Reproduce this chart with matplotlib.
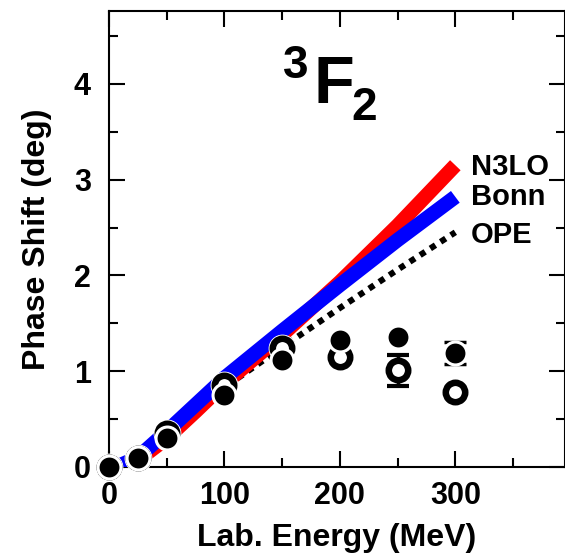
import matplotlib
matplotlib.use("Agg")
import matplotlib.pyplot as plt
from matplotlib.ticker import MultipleLocator

plt.rcParams['font.family'] = ['Liberation Sans', 'DejaVu Sans']
plt.rcParams['font.weight'] = 'bold'

# Lab energies (MeV) of the phase-shift analyses
energy = [0, 25, 50, 100, 150, 200, 250, 300]
pwa_filled = [0.0, 0.09, 0.30, 0.75, 1.12, 1.33, 1.36, 1.19]
pwa_filled_err = [0, 0, 0, 0, 0, 0, 0, 0.12]
pwa_open = [0.0, 0.09, 0.35, 0.86, 1.24, 1.15, 1.01, 0.78]
pwa_open_err = [0, 0, 0, 0, 0, 0, 0.16, 0]

# Model predictions
curve_energy = [0, 10, 25, 50, 75, 100, 150, 200, 250, 300]
n3lo = [0.0, 0.01, 0.07, 0.30, 0.58, 0.87, 1.38, 1.93, 2.52, 3.15]
bonn = [0.0, 0.02, 0.10, 0.37, 0.65, 0.93, 1.42, 1.90, 2.37, 2.82]
ope = [0.0, 0.01, 0.08, 0.34, 0.58, 0.83, 1.25, 1.66, 2.06, 2.45]

xticks = [0, 100, 200, 300]
yticks = [0, 1, 2, 3, 4]

W, H = 565, 558
fig = plt.figure(figsize=(W / 100, H / 100), dpi=100)
ax = fig.add_axes([109 / W, (H - 467) / H, 456 / W, 456 / H])

ax.plot(curve_energy, ope, color='black', lw=4.4, linestyle=(0, (1, 1)),
        dash_capstyle='butt', zorder=2)
ax.plot(curve_energy, n3lo, color='#ff0000', lw=10.5, solid_capstyle='butt', zorder=3)
ax.plot(curve_energy, bonn, color='#0000ff', lw=10.5, solid_capstyle='butt', zorder=4)

# open symbols: white halo, then black ring
ax.plot(energy, pwa_open, 'o', ms=17.5, mfc='white', mec='white', mew=2.5,
        zorder=5, clip_on=False)
ax.errorbar(energy, pwa_open, yerr=pwa_open_err, fmt='none', ecolor='black',
            elinewidth=2.5, capsize=8, capthick=3, zorder=5)
ax.plot(energy, pwa_open, 'o', ms=14, mfc='white', mec='black', mew=4.7,
        zorder=6, clip_on=False)

# filled symbols with white edge
ax.errorbar(energy, pwa_filled, yerr=pwa_filled_err, fmt='none', ecolor='black',
            elinewidth=2.5, capsize=8, capthick=2.5, zorder=7)
ax.plot(energy, pwa_filled, 'o', ms=16.5, mfc='black', mec='white', mew=2.2,
        zorder=8, clip_on=False)

ax.set_xlim(0, 395)
ax.set_ylim(0, 4.76)
ax.set_xticks(xticks)
ax.set_yticks(yticks)
ax.xaxis.set_minor_locator(MultipleLocator(50))
ax.yaxis.set_minor_locator(MultipleLocator(0.5))
ax.tick_params(which='both', direction='in', top=True, right=True, width=1.5,
               labelsize=22)
ax.tick_params(which='major', length=11.5)
ax.tick_params(which='minor', length=6.5)
ax.tick_params(axis='y', pad=13)
ax.tick_params(axis='x', pad=10)
for lab in ax.get_xticklabels() + ax.get_yticklabels():
    lab.set_fontweight('bold')
for s in ax.spines.values():
    s.set_linewidth(1.5)

ax.set_xlabel('Lab. Energy (MeV)', fontsize=23, fontweight='bold', labelpad=9)
ax.set_ylabel('Phase Shift (deg)', fontsize=23, fontweight='bold', labelpad=16)

def px(x, y):
    return x / W, 1 - y / H

fig.text(*px(283, 78), '3', fontsize=33, fontweight='bold', va='baseline')
fig.text(*px(313, 103), 'F', fontsize=48, fontweight='bold', va='baseline')
fig.text(*px(351, 120), '2', fontsize=33, fontweight='bold', va='baseline')

fig.text(*px(471, 175), 'N3LO', fontsize=21, fontweight='bold', va='baseline')
fig.text(*px(471, 205), 'Bonn', fontsize=21, fontweight='bold', va='baseline')
fig.text(*px(471, 243), 'OPE', fontsize=21, fontweight='bold', va='baseline')

fig.savefig('out.png', dpi=100)
